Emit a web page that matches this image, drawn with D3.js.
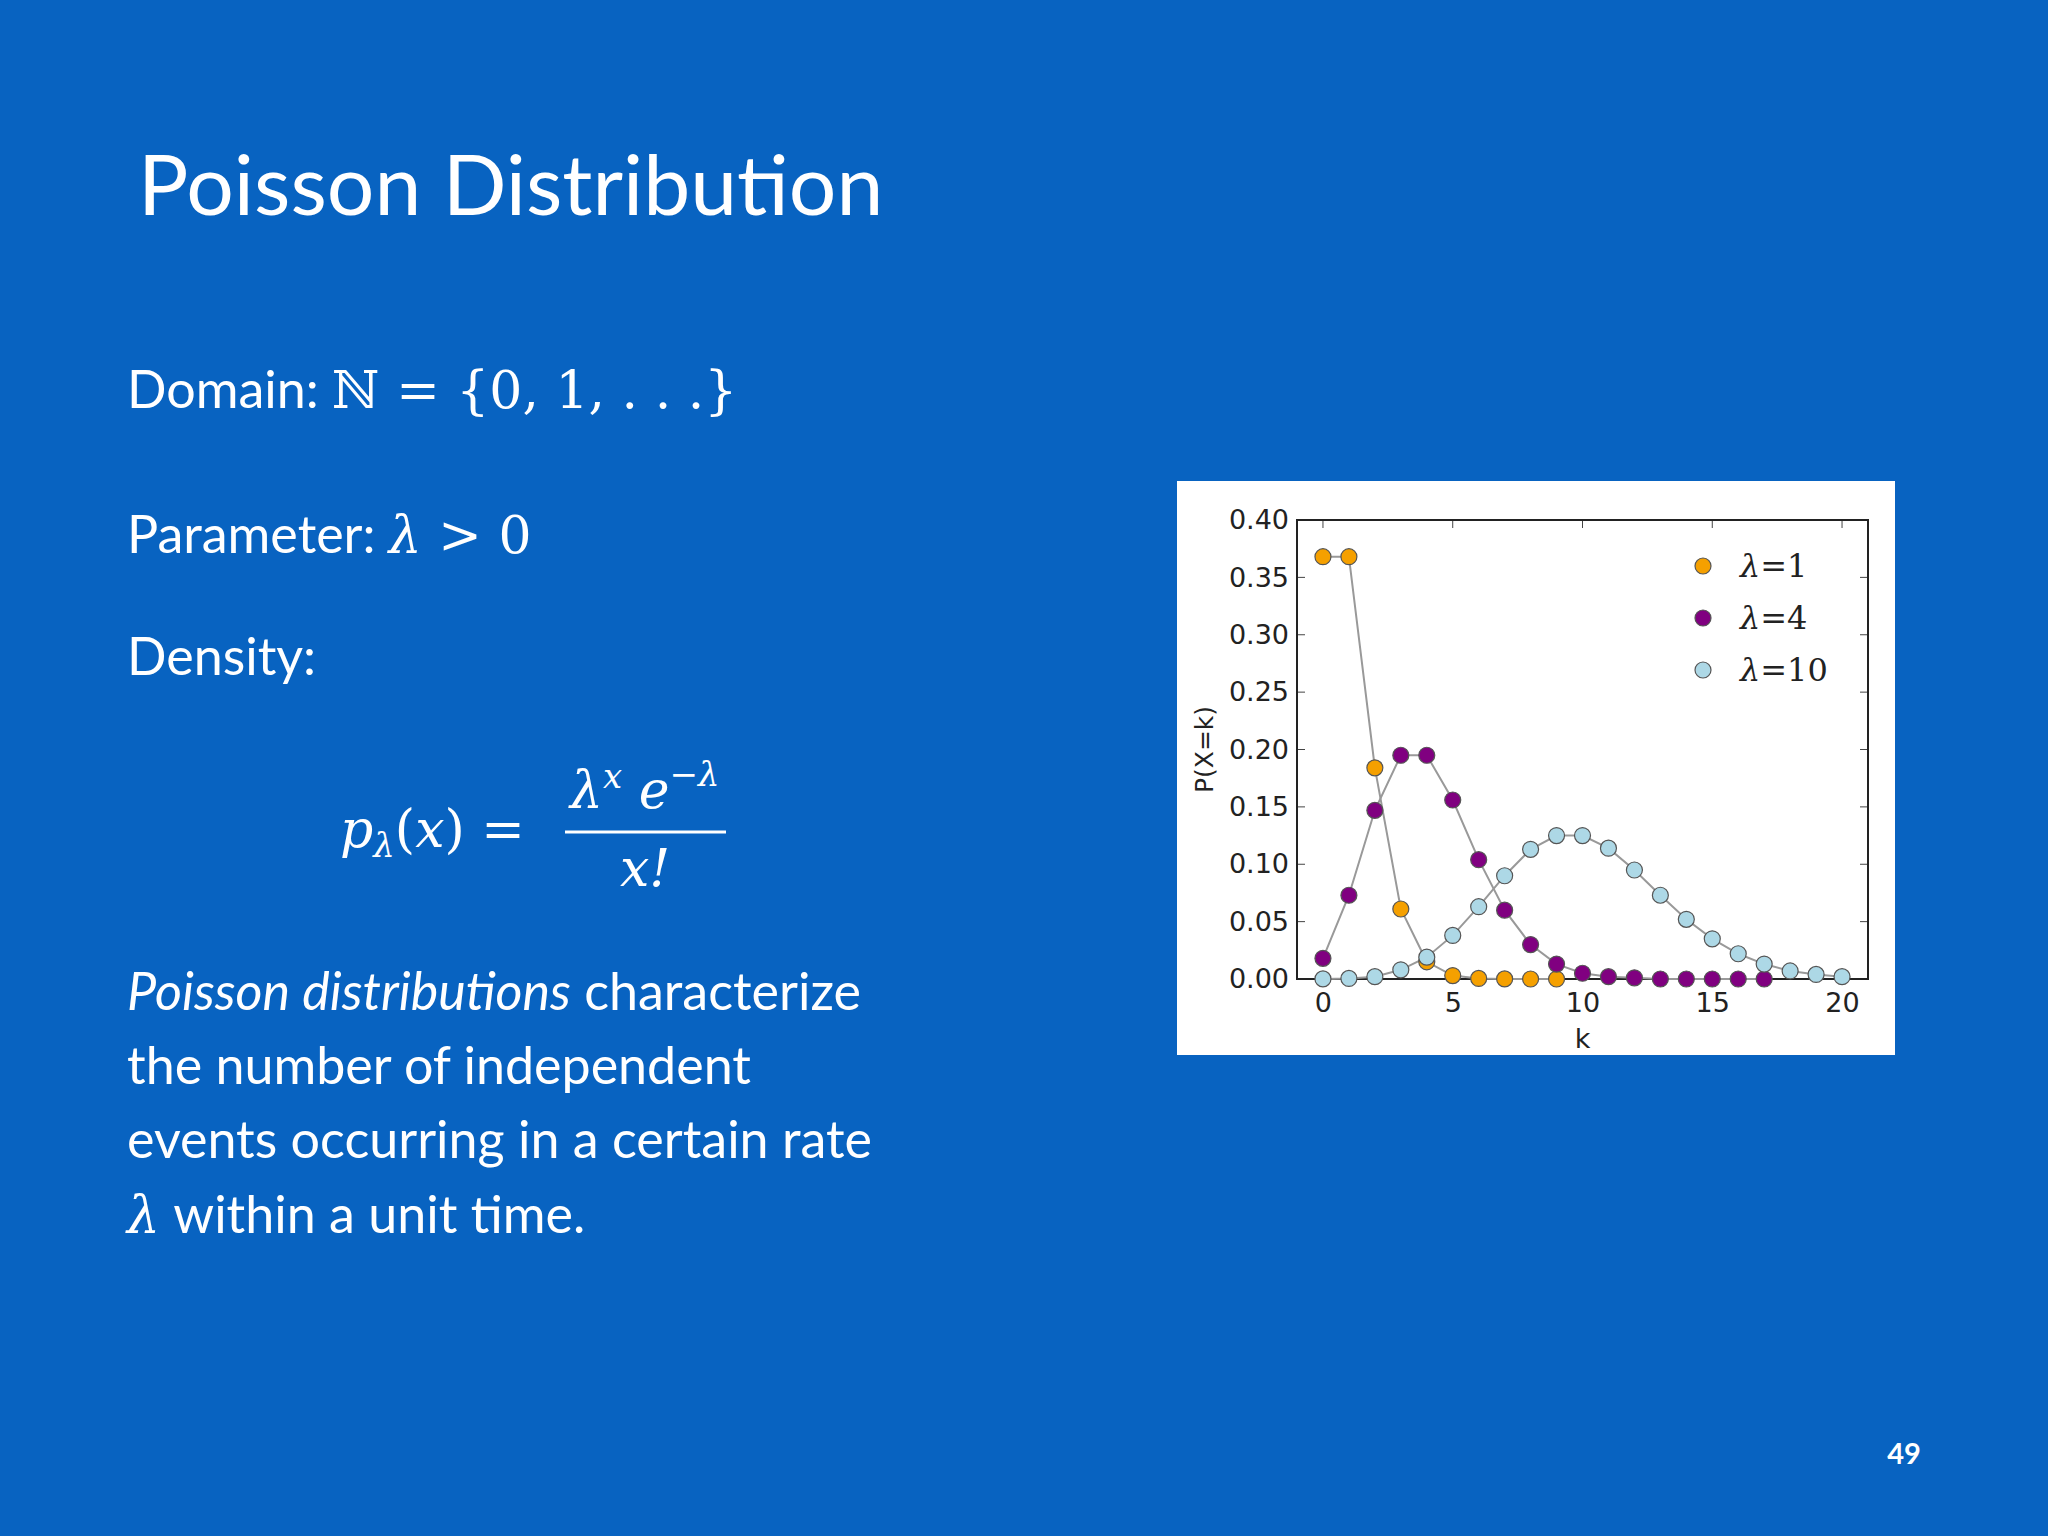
<!DOCTYPE html>
<html>
<head>
<meta charset="utf-8">
<script src="https://cdn.jsdelivr.net/npm/d3@7.9.0/dist/d3.min.js"></script>
<style>
  body { margin: 0; background: #0863c1; }
  svg { display: block; }
</style>
</head>
<body>
<svg id="slide" width="2048" height="1536"></svg>
<script>
// values
const kValues1 = [0, 1, 2, 3, 4, 5, 6, 7, 8, 9];
const probs1 = [0.368, 0.368, 0.184, 0.061, 0.015, 0.003, 0.0005, 0.0001, 0, 0];
const kValues4 = [0, 1, 2, 3, 4, 5, 6, 7, 8, 9, 10, 11, 12, 13, 14, 15, 16, 17];
const probs4 = [0.018, 0.073, 0.147, 0.195, 0.195, 0.156, 0.104, 0.060, 0.030, 0.013, 0.005, 0.002, 0.001, 0, 0, 0, 0, 0];
const kValues10 = [0, 1, 2, 3, 4, 5, 6, 7, 8, 9, 10, 11, 12, 13, 14, 15, 16, 17, 18, 19, 20];
const probs10 = [0.0001, 0.0005, 0.002, 0.008, 0.019, 0.038, 0.063, 0.090, 0.113, 0.125, 0.125, 0.114, 0.095, 0.073, 0.052, 0.035, 0.022, 0.013, 0.007, 0.004, 0.002];
const seriesLabels = ["1", "4", "10"];
const seriesColors = ["#f5a000", "#800080", "#add8e6"];
const xTicks = [0, 5, 10, 15, 20];
const yTicks = [0, 0.05, 0.10, 0.15, 0.20, 0.25, 0.30, 0.35, 0.40];

const svg = d3.select("#slide");
const white = "#ffffff";

// slide text
svg.append("text").attr("x", 138).attr("y", 215)
  .attr("font-family", "Lato").attr("font-size", 84).attr("fill", white)
  .text("Poisson Distribution");

const serif = "DejaVu Serif";
function line(y, parts) {
  const t = svg.append("text").attr("x", 127).attr("y", y)
    .attr("font-size", 52).attr("fill", white);
  parts.forEach(p => {
    t.append("tspan").attr("font-family", p.f || "Lato")
      .attr("font-style", p.i ? "italic" : "normal").text(p.t);
  });
  return t;
}
line(408, [{t: "Domain: "}, {t: "ℕ = {0, 1, . . .}", f: serif}]);
line(553, [{t: "Parameter: "}, {t: "λ", f: serif, i: 1}, {t: " > 0", f: serif}]);
line(675, [{t: "Density:"}]);

// formula
svg.append("text").attr("x", 340).attr("y", 847).attr("font-size", 52).attr("fill", white)
  .attr("font-family", serif)
  .call(t => {
    t.append("tspan").attr("font-style", "italic").text("p");
    t.append("tspan").attr("font-style", "italic").attr("font-size", 34).attr("dy", 10).text("λ");
    t.append("tspan").attr("dy", -10).text("(");
    t.append("tspan").attr("font-style", "italic").text("x");
    t.append("tspan").text(") =");
  });
svg.append("text").attr("x", 570).attr("y", 808).attr("font-size", 52).attr("fill", white)
  .attr("font-family", serif).attr("font-style", "italic")
  .call(t => {
    t.append("tspan").text("λ");
    t.append("tspan").attr("font-size", 34).attr("dy", -20).text("x");
    t.append("tspan").attr("dy", 20).text(" e");
    t.append("tspan").attr("font-size", 34).attr("dy", -22).text("−λ");
  });
svg.append("line").attr("x1", 565).attr("x2", 726).attr("y1", 832).attr("y2", 832)
  .attr("stroke", white).attr("stroke-width", 3);
svg.append("text").attr("x", 620).attr("y", 886).attr("font-size", 52).attr("fill", white)
  .attr("font-family", serif).attr("font-style", "italic").text("x!");

line(1010, [{t: "Poisson distributions", i: 1}, {t: " characterize"}]);
line(1084, [{t: "the number of independent"}]);
line(1158, [{t: "events occurring in a certain rate"}]);
line(1233, [{t: "λ", f: serif, i: 1}, {t: " within a unit time."}]);

svg.append("text").attr("x", 1904).attr("y", 1464).attr("text-anchor", "middle")
  .attr("font-family", "Lato").attr("font-weight", "bold").attr("font-size", 29)
  .attr("fill", white).text("49");

// chart panel
svg.append("rect").attr("x", 1177).attr("y", 481).attr("width", 718).attr("height", 574)
  .attr("fill", "#ffffff");

const plotL = 1297, plotR = 1868, plotT = 520, plotB = 979;
const x = d3.scaleLinear().domain([-1, 21]).range([plotL, plotR]);
const y = d3.scaleLinear().domain([0, 0.4]).range([plotB, plotT]);
const g = svg.append("g");
const axisFont = "DejaVu Sans";

const xAxis = g.append("g").attr("transform", `translate(0,${plotB})`)
  .call(d3.axisBottom(x).tickValues(xTicks).tickSize(0).tickPadding(14).tickFormat(d3.format("d")));
const yAxis = g.append("g").attr("transform", `translate(${plotL},0)`)
  .call(d3.axisLeft(y).tickValues(yTicks).tickSize(0).tickPadding(8).tickFormat(d3.format(".2f")));
[xAxis, yAxis].forEach(a => {
  a.select(".domain").remove();
  a.selectAll("text").attr("font-family", axisFont).attr("font-size", 27).attr("fill", "#222");
});
// inward ticks on all sides
xTicks.forEach(v => {
  g.append("line").attr("x1", x(v)).attr("x2", x(v)).attr("y1", plotB).attr("y2", plotB - 8).attr("stroke", "#444");
  g.append("line").attr("x1", x(v)).attr("x2", x(v)).attr("y1", plotT).attr("y2", plotT + 8).attr("stroke", "#444");
});
yTicks.forEach(v => {
  g.append("line").attr("x1", plotL).attr("x2", plotL + 8).attr("y1", y(v)).attr("y2", y(v)).attr("stroke", "#444");
  g.append("line").attr("x1", plotR).attr("x2", plotR - 8).attr("y1", y(v)).attr("y2", y(v)).attr("stroke", "#444");
});
g.append("rect").attr("x", plotL).attr("y", plotT).attr("width", plotR - plotL).attr("height", plotB - plotT)
  .attr("fill", "none").attr("stroke", "#222").attr("stroke-width", 2);

g.append("text").attr("x", x(10)).attr("y", 1048).attr("text-anchor", "middle")
  .attr("font-family", axisFont).attr("font-size", 27).attr("fill", "#222").text("k");
g.append("text").attr("transform", `translate(1213,${(plotT + plotB) / 2}) rotate(-90)`)
  .attr("text-anchor", "middle").attr("font-family", axisFont).attr("font-size", 25)
  .attr("fill", "#222").text("P(X=k)");

const series = [
  {k: kValues1, p: probs1},
  {k: kValues4, p: probs4},
  {k: kValues10, p: probs10}
];
const lineGen = d3.line().x(d => x(d[0])).y(d => y(d[1]));
const plot = g.append("g");
series.forEach((s, i) => {
  const pts = s.k.map((k, j) => [k, s.p[j]]);
  plot.append("path").datum(pts).attr("d", lineGen)
    .attr("fill", "none").attr("stroke", "#999").attr("stroke-width", 2);
});
series.forEach((s, i) => {
  const pts = s.k.map((k, j) => [k, s.p[j]]);
  plot.selectAll(null).data(pts).enter().append("circle")
    .attr("cx", d => x(d[0])).attr("cy", d => y(d[1])).attr("r", 8)
    .attr("fill", seriesColors[i]).attr("stroke", "#555").attr("stroke-width", 1.2);
});

// legend
seriesLabels.forEach((lab, i) => {
  const ly = 566 + i * 52;
  g.append("circle").attr("cx", 1703).attr("cy", ly).attr("r", 8)
    .attr("fill", seriesColors[i]).attr("stroke", "#555").attr("stroke-width", 1.2);
  g.append("text").attr("x", 1740).attr("y", ly + 11).attr("font-family", serif)
    .attr("font-size", 32).attr("fill", "#222")
    .call(t => {
      t.append("tspan").attr("font-style", "italic").text("λ");
      t.append("tspan").text("=" + lab);
    });
});
</script>
</body>
</html>
